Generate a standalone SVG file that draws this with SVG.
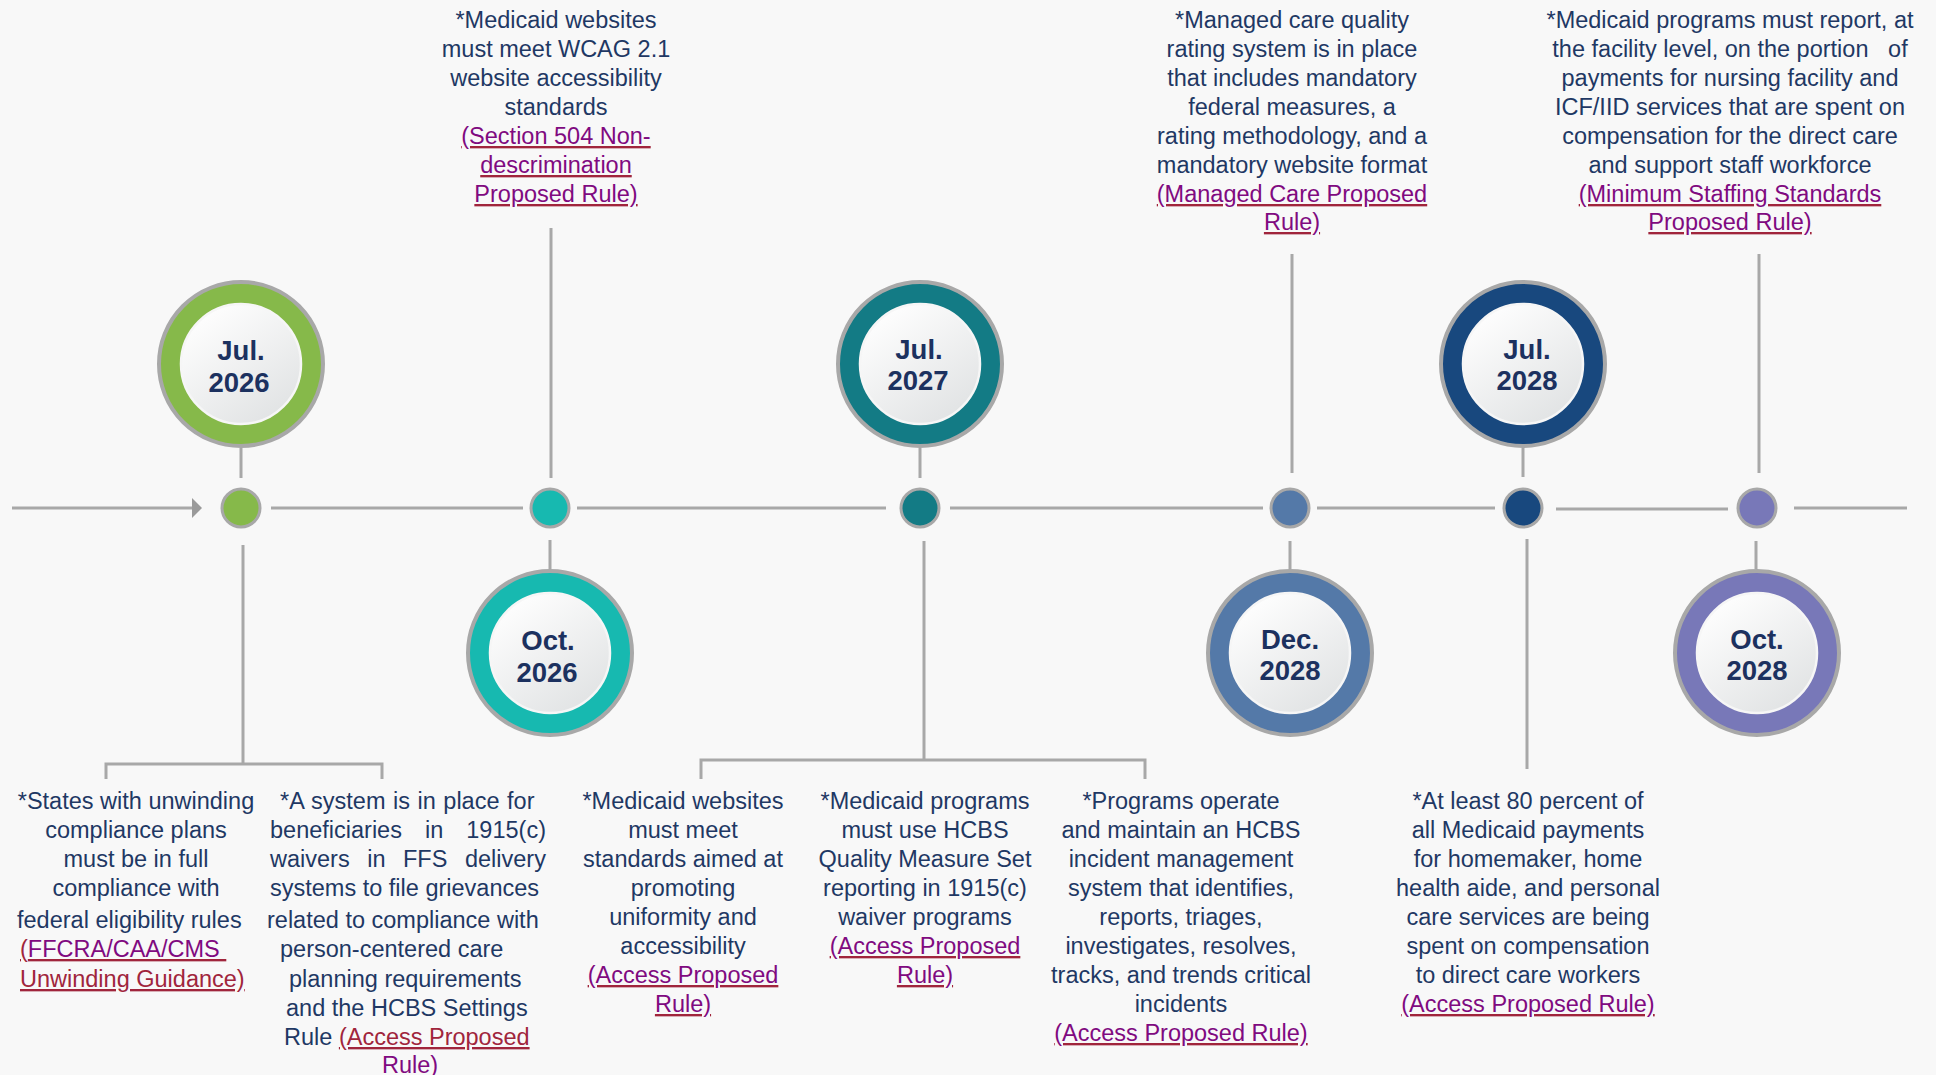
<svg xmlns="http://www.w3.org/2000/svg" width="1936" height="1075" viewBox="0 0 1936 1075">
<defs>
<style>
.t{font-family:"Liberation Sans",Arial,sans-serif;font-size:23.5px;fill:#1f3864}
.m{text-anchor:middle}
.lk{fill:#a0253c;text-decoration:underline}
.p{fill:#800a80}
.d{font-family:"Liberation Sans",Arial,sans-serif;font-weight:bold;font-size:27.5px;fill:#1c315f;text-anchor:middle}
.ln{stroke:#a8a8a8;stroke-width:3;fill:none}
.ring{stroke:#a8a8a8;stroke-width:4}
.inner{fill:url(#gi);stroke:#f6f6f6;stroke-width:2.5}
.dot{stroke:#a8a8a8;stroke-width:3}
</style>
<linearGradient id="gi" x1="0.2" y1="0.1" x2="0.8" y2="0.95">
<stop offset="0" stop-color="#fdfdfd"/>
<stop offset="1" stop-color="#e1e3e4"/>
</linearGradient>
<marker id="ah" viewBox="0 0 10 20" refX="0" refY="10" markerWidth="10" markerHeight="20" markerUnits="userSpaceOnUse" orient="auto">
<path d="M0,0 L10,10 L0,20 Z" fill="#9a9a9a"/>
</marker>
</defs>
<rect width="1936" height="1075" fill="#f8f8f8"/>

<g id="connectors">
<line class="ln" x1="12" y1="508" x2="192" y2="508" marker-end="url(#ah)"/>
<line class="ln" x1="271" y1="508" x2="523" y2="508"/>
<line class="ln" x1="577" y1="508" x2="886" y2="508"/>
<line class="ln" x1="950" y1="508" x2="1263" y2="508" stroke-width="4"/>
<line class="ln" x1="1317" y1="508" x2="1495" y2="508"/>
<line class="ln" x1="1556" y1="509" x2="1728" y2="509"/>
<line class="ln" x1="1794" y1="508" x2="1907" y2="508"/>
<!-- Jul 2026 -->
<line class="ln" x1="241" y1="448" x2="241" y2="478"/>
<line class="ln" x1="243" y1="545" x2="243" y2="764"/>
<polyline class="ln" points="106,779 106,764 382,764 382,779"/>
<!-- Oct 2026 -->
<line class="ln" x1="551" y1="228" x2="551" y2="478"/>
<line class="ln" x1="550" y1="540" x2="550" y2="569"/>
<!-- Jul 2027 -->
<line class="ln" x1="920" y1="448" x2="920" y2="478"/>
<line class="ln" x1="924" y1="541" x2="924" y2="760"/>
<polyline class="ln" points="701,779 701,760 1145,760 1145,779"/>
<!-- Dec 2028 -->
<line class="ln" x1="1292" y1="254" x2="1292" y2="473"/>
<line class="ln" x1="1290" y1="541" x2="1290" y2="569"/>
<!-- Jul 2028 -->
<line class="ln" x1="1523" y1="448" x2="1523" y2="477"/>
<line class="ln" x1="1527" y1="539" x2="1527" y2="769"/>
<!-- Oct 2028 -->
<line class="ln" x1="1759" y1="254" x2="1759" y2="473"/>
<line class="ln" x1="1756" y1="541" x2="1756" y2="569"/>
</g>

<g id="dot-jul2026"><circle class="dot" cx="241" cy="508" r="19" fill="#86b94a"/></g>
<g id="dot-oct2026"><circle class="dot" cx="550" cy="508" r="19" fill="#17b9b0"/></g>
<g id="dot-jul2027"><circle class="dot" cx="920" cy="508" r="19" fill="#137b85"/></g>
<g id="dot-dec2028"><circle class="dot" cx="1290" cy="508" r="19" fill="#5479a8"/></g>
<g id="dot-jul2028"><circle class="dot" cx="1523" cy="508" r="19" fill="#18487e"/></g>
<g id="dot-oct2028"><circle class="dot" cx="1757" cy="508" r="19" fill="#7878b8"/></g>

<g id="date-jul2026">
<circle class="ring" cx="241" cy="364" r="82" fill="#86b94a"/>
<circle class="inner" cx="241" cy="364" r="60"/>
<text class="d" x="241" y="360">Jul.</text>
<text class="d" x="239" y="392">2026</text>
</g>
<g id="date-oct2026">
<circle class="ring" cx="550" cy="653" r="82" fill="#17b9b0"/>
<circle class="inner" cx="550" cy="653" r="60"/>
<text class="d" x="548" y="650">Oct.</text>
<text class="d" x="547" y="682">2026</text>
</g>
<g id="date-jul2027">
<circle class="ring" cx="920" cy="364" r="82" fill="#137b85"/>
<circle class="inner" cx="920" cy="364" r="60"/>
<text class="d" x="919" y="359">Jul.</text>
<text class="d" x="918" y="390">2027</text>
</g>
<g id="date-dec2028">
<circle class="ring" cx="1290" cy="653" r="82" fill="#5479a8"/>
<circle class="inner" cx="1290" cy="653" r="60"/>
<text class="d" x="1290" y="649">Dec.</text>
<text class="d" x="1290" y="680">2028</text>
</g>
<g id="date-jul2028">
<circle class="ring" cx="1523" cy="364" r="82" fill="#18487e"/>
<circle class="inner" cx="1523" cy="364" r="60"/>
<text class="d" x="1527" y="359">Jul.</text>
<text class="d" x="1527" y="390">2028</text>
</g>
<g id="date-oct2028">
<circle class="ring" cx="1757" cy="653" r="82" fill="#7878b8"/>
<circle class="inner" cx="1757" cy="653" r="60"/>
<text class="d" x="1757" y="649">Oct.</text>
<text class="d" x="1757" y="680">2028</text>
</g>

<g id="note-oct2026-top">
<text class="t m"><tspan x="556" y="28">*Medicaid websites</tspan><tspan x="556" y="57">must meet WCAG 2.1</tspan><tspan x="556" y="86">website accessibility</tspan><tspan x="556" y="115">standards</tspan></text>
<text class="t m lk" x="556" y="144"><tspan class="p">(Section 504 Non-</tspan></text>
<text class="t m lk" x="556" y="173"><tspan class="p">descrimination</tspan></text>
<text class="t m lk" x="556" y="202"><tspan class="p">Proposed Rule)</tspan></text>
</g>

<g id="note-dec2028-top">
<text class="t m"><tspan x="1292" y="28">*Managed care quality</tspan><tspan x="1292" y="57">rating system is in place</tspan><tspan x="1292" y="86">that includes mandatory</tspan><tspan x="1292" y="115">federal measures, a</tspan><tspan x="1292" y="144">rating methodology, and a</tspan><tspan x="1292" y="173">mandatory website format</tspan></text>
<text class="t m lk" x="1292" y="202"><tspan class="p">(Managed Care Proposed</tspan></text>
<text class="t m lk" x="1292" y="230"><tspan class="p">Rule)</tspan></text>
</g>

<g id="note-oct2028-top">
<text class="t m"><tspan x="1730" y="28">*Medicaid programs must report, at</tspan><tspan x="1730" y="57">the facility level, on the portion&#160;&#160; of</tspan><tspan x="1730" y="86">payments for nursing facility and</tspan><tspan x="1730" y="115">ICF/IID services that are spent on</tspan><tspan x="1730" y="144">compensation for the direct care</tspan><tspan x="1730" y="173">and support staff workforce</tspan></text>
<text class="t m lk" x="1730" y="202"><tspan class="p">(Minimum Staffing Standards</tspan></text>
<text class="t m lk" x="1730" y="230"><tspan class="p">Proposed Rule)</tspan></text>
</g>

<g id="note-jul2026-a">
<text class="t m"><tspan x="136" y="809">*States with unwinding</tspan><tspan x="136" y="838">compliance plans</tspan><tspan x="136" y="867">must be in full</tspan><tspan x="136" y="896">compliance with</tspan></text>
<text class="t" x="17" y="928">federal eligibility rules</text>
<text class="t lk" x="20" y="957" xml:space="preserve">(<tspan class="p">FFCRA/CAA/CMS </tspan></text>
<text class="t lk" x="20" y="987">Unwinding Guidance)</text>
</g>

<g id="note-jul2026-b">
<text class="t" x="280" y="809" word-spacing="1">*A system is in place for</text>
<text class="t" x="270" y="838" word-spacing="16.5">beneficiaries in 1915(c)</text>
<text class="t" x="270" y="867" word-spacing="11">waivers in FFS delivery</text>
<text class="t" x="270" y="896">systems to file grievances</text>
<text class="t" x="267" y="928">related to compliance with</text>
<text class="t" x="280" y="957">person-centered care</text>
<text class="t" x="289" y="987">planning requirements</text>
<text class="t" x="286" y="1016">and the HCBS Settings</text>
<text class="t" x="284" y="1045">Rule <tspan class="lk">(Access Proposed</tspan></text>
<text class="t p" x="382" y="1073">Rule)</text>
</g>

<g id="note-jul2027-a">
<text class="t m"><tspan x="683" y="809">*Medicaid websites</tspan><tspan x="683" y="838">must meet</tspan><tspan x="683" y="867">standards aimed at</tspan><tspan x="683" y="896">promoting</tspan><tspan x="683" y="925">uniformity and</tspan><tspan x="683" y="954">accessibility</tspan></text>
<text class="t m lk" x="683" y="983"><tspan class="p">(Access Proposed</tspan></text>
<text class="t m lk" x="683" y="1012"><tspan class="p">Rule)</tspan></text>
</g>

<g id="note-jul2027-b">
<text class="t m"><tspan x="925" y="809">*Medicaid programs</tspan><tspan x="925" y="838">must use HCBS</tspan><tspan x="925" y="867">Quality Measure Set</tspan><tspan x="925" y="896">reporting in 1915(c)</tspan><tspan x="925" y="925">waiver programs</tspan></text>
<text class="t m lk" x="925" y="954"><tspan class="p">(Access Proposed</tspan></text>
<text class="t m lk" x="925" y="983"><tspan class="p">Rule)</tspan></text>
</g>

<g id="note-jul2027-c">
<text class="t m"><tspan x="1181" y="809">*Programs operate</tspan><tspan x="1181" y="838">and maintain an HCBS</tspan><tspan x="1181" y="867">incident management</tspan><tspan x="1181" y="896">system that identifies,</tspan><tspan x="1181" y="925">reports, triages,</tspan><tspan x="1181" y="954">investigates, resolves,</tspan><tspan x="1181" y="983">tracks, and trends critical</tspan><tspan x="1181" y="1012">incidents</tspan></text>
<text class="t m lk" x="1181" y="1041"><tspan class="p">(Access Proposed Rule)</tspan></text>
</g>

<g id="note-jul2028">
<text class="t m"><tspan x="1528" y="809">*At least 80 percent of</tspan><tspan x="1528" y="838">all Medicaid payments</tspan><tspan x="1528" y="867">for homemaker, home</tspan><tspan x="1528" y="896">health aide, and personal</tspan><tspan x="1528" y="925">care services are being</tspan><tspan x="1528" y="954">spent on compensation</tspan><tspan x="1528" y="983">to direct care workers</tspan></text>
<text class="t m lk" x="1528" y="1012"><tspan class="p">(Access Proposed Rule)</tspan></text>
</g>
</svg>
